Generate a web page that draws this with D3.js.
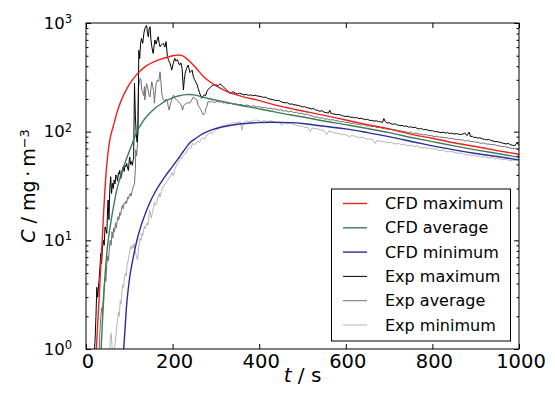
<!DOCTYPE html>
<html><head><meta charset="utf-8">
<script src="https://cdn.jsdelivr.net/npm/d3@7"></script>
<style>body{margin:0;background:#fff}svg{display:block;font-family:"DejaVu Sans",sans-serif}</style>
</head><body><svg id="c" width="555" height="397"></svg>
<script>
// ---- data ----
const xTicks = [0, 200, 400, 600, 800, 1000];
const yTicks = [1, 10, 100, 1000];
const legendLabels = ["CFD maximum", "CFD average", "CFD minimum", "Exp maximum", "Exp average", "Exp minimum"];

const cfdMax = [[24,1],[27,1.7],[30,2.8],[33,4.8],[36,8],[38,11],[40,16],[43,26],[46,40],[50,60],[55,84],[60,102],[65,120],[71,148],[80,188],[94,248],[105,292],[115,328],[125,362],[140,405],[155,437],[171,463],[190,487],[205,502],[213,508],[220,504],[228,485],[240,442],[250,402],[260,362],[270,326],[286,288],[300,265],[315,245],[333,228],[350,217],[370,206],[394,196],[425,181],[450,171],[471,164],[500,155],[536,145],[600,128],[650,116],[700,106],[760,93],[800,87],[850,79],[900,73],[950,67],[1000,62]];
const cfdAvg = [[35,1],[38,1.8],[41,3],[44,4.8],[48,7.5],[52,10.5],[56,13.5],[60,17],[65,22],[71,29],[80,39],[88,49],[94,57],[100,66],[107,78],[113,90],[120,104],[130,122],[140,138],[150,152],[160,165],[175,182],[186,194],[200,205],[215,214],[230,219],[240,220],[250,218],[265,211],[280,203],[300,195],[317,189],[350,177],[394,164],[425,155],[471,143],[500,137],[536,128],[600,116],[650,107],[700,98],[760,87],[800,81],[850,74],[900,68],[950,63],[1000,58]];
const cfdMin = [[87,1],[90,1.5],[94,2.6],[97,3.4],[101,4.6],[107,6.3],[113,8.3],[119,10.5],[128,14],[138,18],[148,22.5],[160,28],[171,33],[185,40],[200,48],[215,58],[225,66],[240,79],[254,87],[270,96],[290,104],[317,111],[350,117],[394,121],[430,122],[471,121],[500,119],[536,114],[600,106],[650,98],[700,90],[760,80],[800,74],[850,68],[900,63],[950,59],[1000,55]];

const expMax = [[19,0.9],[21,1.2],[23,2.0],[25,3.7],[27,3.0],[28,3.4],[30,4.2],[32,5.5],[34,7.6],[36,6.1],[38,8.5],[40,10],[42,9.0],[44,13.3],[46,12.5],[48,11.6],[50,20],[51,23.5],[53,15.5],[55,30],[57,38.5],[59,27],[61,33.5],[63,30],[65,36],[67,33],[69,40],[71,38.5],[73,35],[75,42],[77,41],[78,44],[80,37],[82,38.5],[84,45],[86,47.5],[88,43],[90,49],[92,47.5],[94,51],[96,46],[98,44],[100,55],[101,58.5],[103,50],[105,53],[107,49],[109,55],[110,56],[112,280],[114,140],[116,95],[118,80],[120,100],[122,560],[124,470],[126,640],[128,720],[131,650],[134,820],[136,890],[138,930],[140,950],[142,800],[144,748],[146,900],[148,925],[150,700],[152,605],[155,525],[157,600],[159,697],[162,640],[165,720],[167,748],[169,650],[171,605],[174,630],[177,640],[179,650],[182,600],[185,673],[188,490],[191,450],[194,427],[196,400],[198,369],[201,420],[205,473],[208,445],[211,460],[213,440],[216,410],[219,430],[222,380],[225,242],[227,300],[229,344],[232,380],[236,410],[238,380],[240,350],[243,360],[245,369],[248,320],[251,300],[254,285],[256,275],[259,250],[262,230],[265,212],[267,203],[270,210],[273,218],[276,214],[279,233],[282,245],[286,253],[290,262],[294,269],[298,268],[300,270],[305,265],[309,275],[313,268],[317,259],[321,250],[325,242],[329,232],[332,226],[336,229],[340,233],[345,226],[350,222],[355,226],[360,222],[365,218],[370,220],[375,216],[380,218],[385,214],[390,217],[395,213],[400,212],[405,210],[410,207],[415,208],[420,202],[425,199],[430,198],[435,195],[440,193],[445,194],[450,189],[455,186],[460,184],[465,185],[470,179],[475,180],[480,177],[485,176],[490,174],[495,172],[500,169],[505,170],[510,166],[515,165],[520,162],[525,163],[530,159],[535,157],[540,154],[545,156],[550,151],[555,150],[560,148],[563,158],[566,147],[570,146],[575,145],[580,143],[585,144],[590,141],[595,139],[600,138],[605,139],[610,136],[615,136],[620,134],[625,135],[630,132],[635,133],[640,131],[645,129],[650,130],[655,127],[660,127],[665,125],[670,126],[675,124],[680,123],[685,122],[688,132],[691,124],[695,120],[700,121],[705,118],[710,117],[715,118],[720,115],[725,114],[730,114],[735,112],[740,113],[745,110],[750,111],[755,109],[760,110],[765,107],[770,106],[775,107],[780,104],[785,105],[790,103],[795,102],[800,102],[805,100],[810,100],[815,99],[820,98],[825,99],[830,97],[835,98],[840,96],[845,97],[850,95],[855,96],[860,95],[865,94],[870,95],[875,97],[880,92],[885,99],[888,90],[892,91],[896,88],[900,89],[905,87],[910,88],[915,86],[920,85],[925,84],[930,85],[935,83],[940,82],[945,81],[950,81],[955,80],[960,79],[965,78],[970,77],[975,78],[980,76],[985,75],[990,74],[995,79],[1000,75]];

const expAvg = [[30,0.9],[32,1.4],[34,1.9],[36,2.4],[38,2.1],[40,3.0],[42,3.8],[44,4.6],[46,4.2],[48,6.0],[50,7.2],[52,6.5],[54,8.5],[56,10],[58,9],[60,12],[62,10.5],[64,13],[66,12],[68,14.5],[70,13],[72,15],[74,16.5],[76,15.5],[78,18],[80,17],[82,19.5],[84,21],[86,19.5],[88,22],[90,21.5],[92,23],[94,22],[96,25],[98,24],[100,26],[102,27],[104,25.5],[106,28],[108,30],[110,32],[112,33],[114,45],[115,68],[117,60],[119,78],[121,250],[123,280],[125,310],[127,300],[129,240],[131,230],[133,215],[135,260],[136,196],[138,240],[140,277],[142,260],[144,235],[146,215],[148,209],[150,250],[152,288],[154,260],[156,240],[158,183],[160,230],[162,277],[165,300],[168,290],[171,356],[173,288],[175,225],[177,205],[179,196],[182,190],[185,200],[188,190],[190,170],[192,158],[195,180],[198,196],[202,217],[205,205],[209,196],[213,190],[217,183],[220,175],[223,158],[226,175],[230,180],[235,185],[240,183],[244,195],[248,209],[252,200],[256,196],[259,175],[262,168],[265,160],[268,150],[271,142],[273,147],[275,150],[277,165],[279,170],[282,190],[286,187],[290,190],[295,186],[300,188],[305,191],[309,186],[313,189],[317,183],[322,185],[328,180],[334,183],[340,178],[346,181],[352,176],[358,178],[365,174],[372,176],[380,171],[388,173],[394,169],[400,170],[407,166],[414,168],[420,163],[426,165],[432,161],[438,162],[444,158],[450,159],[456,155],[462,156],[468,152],[474,154],[480,150],[486,151],[492,147],[498,148],[504,144],[510,145],[516,141],[522,140],[528,136],[534,137],[540,133],[546,134],[552,130],[558,131],[564,128],[570,129],[576,126],[582,126],[588,123],[594,124],[600,121],[606,122],[612,119],[618,120],[624,117],[630,117],[636,115],[642,116],[648,113],[654,113],[660,111],[666,112],[672,109],[678,110],[684,107],[690,108],[696,105],[702,106],[708,104],[714,104],[720,102],[726,102],[732,100],[738,100],[744,98],[750,99],[756,96],[762,97],[768,95],[774,95],[780,93],[786,94],[792,92],[798,92],[804,90],[810,91],[816,89],[822,89],[828,88],[834,88],[840,86],[846,87],[852,85],[858,85],[864,84],[870,84],[876,82],[882,83],[888,81],[894,81],[900,80],[906,80],[912,78],[918,79],[924,77],[930,77],[936,76],[942,76],[948,75],[954,74],[960,73],[966,73],[972,72],[978,71],[984,70],[990,70],[996,69],[1000,68]];

const expMin = [[54,0.8],[56,1.2],[58,1.4],[60,1.1],[62,0.8],[65,0.9],[67,1.1],[69,1.3],[71,1.6],[73,1.9],[75,2.2],[77,2.0],[79,2.8],[81,2.6],[83,3.4],[85,3.9],[87,3.7],[89,4.6],[91,5.0],[93,4.7],[95,6.0],[97,6.4],[99,7.2],[101,7.8],[103,8.8],[105,8.3],[107,9.0],[109,8.5],[111,9.4],[113,8.1],[115,7.5],[117,7.0],[119,6.6],[121,8.0],[123,9.4],[125,10.5],[127,10.0],[129,11.6],[131,11.0],[133,12.5],[135,13.5],[137,12.8],[139,13.6],[141,14.5],[143,13.8],[145,16],[147,19],[149,17.5],[151,16],[153,17.8],[156,20],[158,22.6],[160,21],[163,22],[166,25],[169,27],[171,25],[174,28],[177,31],[179,31],[182,33],[185,33.5],[188,36],[190,36],[193,38],[196,40],[199,42],[202,39],[205,45],[209,49],[212,52],[215,53],[218,58],[221,56],[224,60],[227,62],[231,63],[234,68],[238,72],[242,70],[246,78],[250,76],[254,78],[258,82],[262,80],[266,86],[270,88],[274,85],[279,93],[284,95],[288,98],[292,96],[296,101],[300,104],[305,106],[310,110],[317,115],[322,113],[328,118],[334,117],[340,121],[346,120],[352,122],[356,124],[360,103],[363,118],[368,124],[374,126],[380,123],[386,127],[394,128],[400,126],[406,124],[412,127],[418,123],[425,126],[432,124],[440,120],[446,123],[452,115],[458,121],[465,118],[471,120],[478,117],[485,115],[492,113],[500,112],[506,109],[512,111],[518,100],[522,108],[530,107],[536,106],[542,104],[548,103],[556,94],[560,101],[566,100],[572,98],[578,97],[584,96],[590,94],[596,95],[602,93],[608,90],[614,92],[620,91],[626,89],[632,88],[638,89],[644,87],[650,85],[656,86],[662,84],[668,78],[672,83],[680,82],[686,81],[692,80],[698,79],[704,80],[710,78],[716,77],[722,78],[728,76],[734,77],[740,75],[746,74],[752,75],[758,73],[764,74],[770,72],[776,71],[782,72],[788,70],[794,71],[800,69],[806,70],[812,68],[818,67],[824,68],[830,66],[836,65],[842,66],[848,65],[854,64],[860,63],[866,64],[872,62],[878,61],[884,62],[890,60],[896,61],[902,59],[908,60],[914,58],[920,59],[926,58],[932,57],[938,58],[944,56],[950,57],[956,56],[962,55],[968,56],[974,55],[980,54],[986,55],[992,54],[1000,55]];

// ---- chart ----
const svg = d3.select("#c");
const L = 86, R = 519, T = 23, B = 349;
const x = d3.scaleLinear().domain([0, 1000]).range([L, R]);
const y = d3.scaleLog().domain([1, 1000]).range([B, T]);

const series = [
  {data: cfdMax, color: "#f01e1e", w: 1.4, smooth: true},
  {data: cfdAvg, color: "#3d7d58", w: 1.4, smooth: true},
  {data: cfdMin, color: "#2b2ba0", w: 1.4, smooth: true},
  {data: expMax, color: "#000000", w: 1.0, smooth: false},
  {data: expAvg, color: "#707070", w: 1.0, smooth: false},
  {data: expMin, color: "#b4b4b4", w: 1.0, smooth: false}
];

svg.append("defs").append("clipPath").attr("id", "clip")
  .append("rect").attr("x", L).attr("y", T).attr("width", R - L).attr("height", B - T);

const g = svg.append("g").attr("clip-path", "url(#clip)");
const drawOrder = [5, 4, 3, 0, 1, 2];
drawOrder.forEach(i => {
  const s = series[i];
  const line = d3.line().x(d => x(d[0])).y(d => y(d[1]))
    .curve(s.smooth ? d3.curveMonotoneX : d3.curveLinear);
  g.append("path").attr("d", line(s.data)).attr("fill", "none")
    .attr("stroke", s.color).attr("stroke-width", s.w).attr("stroke-linejoin", "round");
});

const minor = [];
[1, 10, 100].forEach(d => { for (let k = 2; k <= 9; k++) minor.push(d * k); });

// bottom axis
const ax = svg.append("g").attr("transform", `translate(0,${B})`)
  .call(d3.axisBottom(x).tickValues(xTicks).tickSizeInner(-5).tickSizeOuter(0).tickPadding(5.5).tickFormat(d3.format("d")));
ax.selectAll("text").attr("font-size", "19.5px").attr("fill", "#000").attr("font-family", "DejaVu Sans").attr("dx", 1.5);
// top axis
svg.append("g").attr("transform", `translate(0,${T})`)
  .call(d3.axisTop(x).tickValues(xTicks).tickSizeInner(-5).tickSizeOuter(0).tickFormat(""));
// left axis
const ay = svg.append("g").attr("transform", `translate(${L},0)`)
  .call(d3.axisLeft(y).tickValues(yTicks).tickSizeInner(-5).tickSizeOuter(0).tickPadding(14).tickFormat(""));
ay.selectAll(".tick text").each(function(d) {
  const t = d3.select(this).attr("font-size", "16.5px").attr("fill", "#000").attr("font-family", "DejaVu Sans");
  t.text(null);
  t.append("tspan").text("10");
  t.append("tspan").attr("dy", "-0.5em").attr("font-size", "11.5px").text(String(Math.round(Math.log10(d))));
});
svg.append("g").attr("transform", `translate(${L},0)`)
  .call(d3.axisLeft(y).tickValues(minor).tickSizeInner(-2.5).tickSizeOuter(0).tickFormat(""));
// right axis
svg.append("g").attr("transform", `translate(${R},0)`)
  .call(d3.axisRight(y).tickValues(yTicks).tickSizeInner(-5).tickSizeOuter(0).tickFormat(""));
svg.append("g").attr("transform", `translate(${R},0)`)
  .call(d3.axisRight(y).tickValues(minor).tickSizeInner(-2.5).tickSizeOuter(0).tickFormat(""));

svg.selectAll(".domain").remove();
svg.selectAll(".tick line").attr("stroke", "#000").attr("stroke-width", 1);

// frame
svg.append("rect").attr("x", L).attr("y", T).attr("width", R - L).attr("height", B - T)
  .attr("fill", "none").attr("stroke", "#000").attr("stroke-width", 1);

// axis labels
const xl = svg.append("text").attr("x", (L + R) / 2).attr("y", 382).attr("text-anchor", "middle")
  .attr("font-size", "20px").attr("fill", "#000");
xl.append("tspan").attr("font-style", "italic").text("t");
xl.append("tspan").text(" / s");

const yl = svg.append("text").attr("transform", `translate(35,${(T + B) / 2}) rotate(-90)`)
  .attr("text-anchor", "middle").attr("font-size", "19px").attr("fill", "#000");
yl.append("tspan").attr("font-style", "italic").text("C");
yl.append("tspan").text(" / mg\u2009\u00b7\u2009m");
yl.append("tspan").attr("dy", "-0.45em").attr("font-size", "13px").text("\u22123");

// legend
const lg = svg.append("g");
lg.append("rect").attr("x", 331.5).attr("y", 189).attr("width", 179).attr("height", 152)
  .attr("fill", "#fff").attr("stroke", "#000").attr("stroke-width", 1);
legendLabels.forEach((lab, i) => {
  const cy = 203.5 + i * 24.3;
  lg.append("line").attr("x1", 343).attr("x2", 367).attr("y1", cy).attr("y2", cy)
    .attr("stroke", series[i].color).attr("stroke-width", series[i].w);
  lg.append("text").attr("x", 385).attr("y", cy).attr("dy", "0.35em")
    .attr("font-size", "16px").attr("fill", "#000").text(lab);
});
</script></body></html>
